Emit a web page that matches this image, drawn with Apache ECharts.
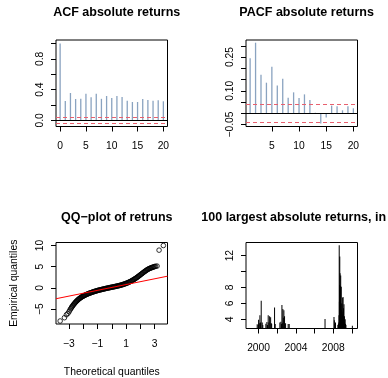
<!DOCTYPE html>
<html><head><meta charset="utf-8">
<script src="https://cdn.jsdelivr.net/npm/echarts@6/dist/echarts.min.js"></script>
<style>html,body{margin:0;padding:0;background:#fff}#c{width:388px;height:378px}</style>
</head><body><div id="c"></div>
<script>
// ---- data ----
const acfLags = [0,1,2,3,4,5,6,7,8,9,10,11,12,13,14,15,16,17,18,19,20];
const acfValues = [1.0,0.252,0.356,0.278,0.28,0.347,0.30,0.347,0.28,0.317,0.29,0.317,0.304,0.256,0.239,0.239,0.278,0.265,0.256,0.26,0.248];
const pacfLags = [1,2,3,4,5,6,7,8,9,10,11,12,13,14,15,16,17,18,19,20];
const pacfValues = [0.245,0.314,0.171,0.136,0.207,0.124,0.154,0.069,0.093,0.068,0.084,0.059,0.002,-0.046,-0.019,0.034,0.031,0.013,0.031,0.022];
const ciBound = 0.036;

const qqTheoretical = [-3.61,-3.31,-3.17,-3.07,-2.99,-2.93,-2.87,-2.82,-2.78,-2.74,-2.7,-2.66,-2.62,-2.58,-2.54,-2.5,-2.46,-2.42,-2.38,-2.34,-2.3,-2.26,-2.22,-2.18,-2.14,-2.1,-2.06,-2.02,-1.98,-1.94,-1.9,-1.85,-1.8,-1.75,-1.7,-1.65,-1.6,-1.55,-1.5,-1.45,-1.4,-1.35,-1.3,-1.25,-1.2,-1.15,-1.1,-1.05,-1.0,-0.95,-0.9,-0.85,-0.8,-0.75,-0.7,-0.65,-0.6,-0.55,-0.5,-0.45,-0.4,-0.35,-0.3,-0.25,-0.2,-0.15,-0.1,-0.05,0,0.05,0.1,0.15,0.2,0.25,0.3,0.35,0.4,0.45,0.5,0.55,0.6,0.65,0.7,0.75,0.8,0.85,0.9,0.95,1.0,1.05,1.1,1.15,1.2,1.25,1.3,1.35,1.4,1.45,1.5,1.55,1.6,1.65,1.7,1.75,1.8,1.85,1.9,1.95,2.0,2.05,2.1,2.15,2.2,2.25,2.3,2.35,2.4,2.45,2.5,2.55,2.6,2.65,2.7,2.75,2.8,2.85,2.9,2.95,3.0,3.07,3.17,3.31,3.61];
const qqEmpirical = [-7.77,-7.0,-6.3,-6.0,-5.6,-5.2,-4.9,-4.62,-4.42,-4.22,-4.04,-3.86,-3.7,-3.54,-3.38,-3.23,-3.09,-2.96,-2.84,-2.72,-2.6,-2.49,-2.39,-2.29,-2.2,-2.11,-2.03,-1.95,-1.88,-1.81,-1.74,-1.66,-1.58,-1.5,-1.43,-1.36,-1.29,-1.22,-1.16,-1.1,-1.04,-0.98,-0.92,-0.86,-0.81,-0.76,-0.71,-0.66,-0.61,-0.56,-0.52,-0.47,-0.43,-0.39,-0.35,-0.31,-0.27,-0.23,-0.19,-0.15,-0.11,-0.07,-0.04,0.0,0.04,0.07,0.11,0.14,0.18,0.21,0.25,0.28,0.32,0.35,0.39,0.43,0.47,0.51,0.55,0.59,0.63,0.68,0.73,0.78,0.83,0.89,0.95,1.01,1.07,1.14,1.21,1.28,1.36,1.44,1.52,1.61,1.7,1.8,1.9,2.0,2.11,2.22,2.33,2.45,2.57,2.7,2.83,2.96,3.09,3.22,3.35,3.48,3.61,3.74,3.87,3.99,4.11,4.22,4.33,4.43,4.52,4.6,4.67,4.74,4.8,4.86,4.92,4.98,5.04,5.1,5.15,8.9,9.99];
const qqLineIntercept = 0.12;
const qqLineSlope = 0.68;

const largestDates = [1999.85,1999.95,2000.0,2000.07,2000.14,2000.2,2000.28,2000.39,2000.45,2000.78,2000.89,2000.95,2001.03,2001.1,2001.18,2001.29,2001.35,2001.4,2001.71,2001.78,2002.28,2002.39,2002.45,2002.5,2002.55,2002.6,2002.65,2002.71,2002.78,2002.89,2003.17,2003.28,2007.12,2008.08,2008.12,2008.18,2008.24,2008.5,2008.55,2008.6,2008.62,2008.64,2008.66,2008.68,2008.7,2008.72,2008.73,2008.75,2008.76,2008.78,2008.8,2008.81,2008.83,2008.84,2008.86,2008.87,2008.89,2008.9,2008.92,2008.93,2008.95,2008.97,2008.99,2009.01,2009.03,2009.05,2009.07,2009.1,2009.12,2009.15,2009.18,2009.2,2009.23,2009.28,2009.32,2009.36,2010.05];
const largestValues = [3.37,3.3,3.96,3.5,4.5,3.6,6.35,3.6,3.3,3.45,3.66,3.3,4.5,3.6,4.38,4.25,3.5,3.45,5.5,3.4,3.6,3.7,3.4,5.8,3.5,5.3,4.2,5.15,4.4,3.5,3.4,3.4,4.05,4.3,3.9,3.4,3.6,3.3,3.4,3.6,4.5,13.3,6.2,8.3,11.9,7.0,9.8,5.4,7.6,8.2,9.5,4.6,6.0,5.0,8.1,4.2,5.2,3.8,6.0,4.4,5.0,3.9,4.6,6.7,4.5,6.8,3.6,5.4,4.0,5.9,3.7,4.4,3.5,4.0,3.4,3.3,3.2];

const acfXTicks = [0,5,10,15,20];
const acfYTicks = [0,0.2,0.4,0.6,0.8,1.0];
const acfYLabels = [0,0.4,0.8];
const pacfXTicks = [5,10,15,20];
const pacfYTicks = [-0.05,0,0.05,0.1,0.15,0.2,0.25,0.3];
const pacfYLabels = [-0.05,0.1,0.25];
const qqXTicks = [-3,-2,-1,0,1,2,3];
const qqXLabels = [-3,-1,1,3];
const qqYTicks = [-5,0,5,10];
const yearTicks = [2000,2002,2004,2006,2008,2010];
const yearLabels = [2000,2004,2008];
const largestYTicks = [4,6,8,10,12];
const largestYLabels = [4,6,8,12];

// ---- chart ----
const FONT = 'Liberation Sans, Arial, Helvetica, sans-serif';
const minus = s => String(s).replace('-', '\u2212');
const fmt = d => v => minus(v.toFixed(d));

function xAx(gi, min, max, ticks, labels, f, extra) {
  return Object.assign({
    type: 'value', gridIndex: gi, min: min, max: max,
    axisLine: {show: false, onZero: false},
    splitLine: {show: false},
    axisTick: {show: true, inside: false, length: 5, customValues: ticks, lineStyle: {color: '#000', width: 1}},
    axisLabel: {show: true, customValues: labels, margin: 15, color: '#000', fontSize: 10.3, fontFamily: FONT, formatter: f}
  }, extra || {});
}
function yAx(gi, min, max, ticks, labels, f, extra) {
  return Object.assign({
    type: 'value', gridIndex: gi, min: min, max: max,
    axisLine: {show: false, onZero: false},
    splitLine: {show: false},
    axisTick: {show: true, inside: false, length: 5, customValues: ticks, lineStyle: {color: '#000', width: 1}},
    axisLabel: {show: true, customValues: labels, rotate: 90, margin: 11, color: '#000', fontSize: 10.3, fontFamily: FONT, formatter: f}
  }, extra || {});
}

const gridBase = {show: true, borderColor: '#000', borderWidth: 1, backgroundColor: 'transparent', containLabel: false};
const titleStyle = {fontSize: 12.5, fontWeight: 'bold', fontFamily: FONT, color: '#000'};
const ciLine = {color: '#e8606e', type: [4, 3], width: 1.2};

const chart = echarts.init(document.getElementById('c'), null, {renderer: 'canvas'});
chart.setOption({
  animation: false,
  backgroundColor: '#fff',
  title: [
    {text: 'ACF absolute returns', left: 111.7, top: 1, textAlign: 'center', textStyle: titleStyle},
    {text: 'PACF absolute returns', left: 301.6, top: 1, textAlign: 'center', textStyle: titleStyle},
    {text: 'QQ\u2212plot of retruns', left: 111.8, top: 206.5, textAlign: 'center', textStyle: titleStyle},
    {text: '100 largest absolute returns, in %', left: 196.3, top: 206.5, textAlign: 'left', textStyle: titleStyle}
  ],
  grid: [
    Object.assign({left: 56, top: 40, width: 111.5, height: 86.5}, gridBase),
    Object.assign({left: 246, top: 40, width: 111.5, height: 86.5}, gridBase),
    Object.assign({left: 56, top: 242.5, width: 111.5, height: 86}, gridBase),
    Object.assign({left: 246, top: 242.5, width: 111.5, height: 86}, gridBase)
  ],
  xAxis: [
    xAx(0, -0.8, 20.8, acfXTicks, acfXTicks, v => String(v)),
    xAx(1, 0.24, 20.76, pacfXTicks, pacfXTicks, v => String(v)),
    xAx(2, -3.9, 3.9, qqXTicks, qqXLabels, v => minus(v), {
      name: 'Theoretical quantiles', nameLocation: 'middle', nameGap: 43,
      nameTextStyle: {fontSize: 10.4, fontFamily: FONT, color: '#000'}}),
    xAx(3, 1998.65, 2010.6, yearTicks, yearLabels, v => String(v))
  ],
  yAxis: [
    yAx(0, -0.08, 1.045, acfYTicks, acfYLabels, fmt(1)),
    yAx(1, -0.059, 0.326, pacfYTicks, pacfYLabels, fmt(2)),
    yAx(2, -8.48, 10.7, qqYTicks, qqYTicks, v => minus(v), {
      name: 'Empirical quantiles', nameLocation: 'middle', nameGap: 37, nameRotate: 90,
      nameTextStyle: {fontSize: 10.4, fontFamily: FONT, color: '#000'}}),
    yAx(3, 2.85, 13.65, largestYTicks, largestYLabels, v => String(v))
  ],
  series: [
    {type: 'bar', xAxisIndex: 0, yAxisIndex: 0, barWidth: 1.3,
     itemStyle: {color: '#8aa3c0'},
     data: acfLags.map((l, i) => [l, acfValues[i]]),
     markLine: {silent: true, symbol: ['none', 'none'], label: {show: false}, animation: false,
       data: [
         {yAxis: 0, lineStyle: {color: '#000', type: 'solid', width: 1}},
         {yAxis: ciBound, lineStyle: ciLine},
         {yAxis: -ciBound, lineStyle: ciLine}
       ]}},
    {type: 'bar', xAxisIndex: 1, yAxisIndex: 1, barWidth: 1.3,
     itemStyle: {color: '#8aa3c0'},
     data: pacfLags.map((l, i) => [l, pacfValues[i]]),
     markLine: {silent: true, symbol: ['none', 'none'], label: {show: false}, animation: false,
       data: [
         {yAxis: 0, lineStyle: {color: '#000', type: 'solid', width: 1}},
         {yAxis: ciBound, lineStyle: ciLine},
         {yAxis: -ciBound, lineStyle: ciLine}
       ]}},
    {type: 'scatter', xAxisIndex: 2, yAxisIndex: 2, symbol: 'circle', symbolSize: 4.6,
     itemStyle: {color: 'rgba(0,0,0,0)', borderColor: '#000', borderWidth: 1},
     data: qqTheoretical.map((t, i) => [t, qqEmpirical[i]])},
    {type: 'line', xAxisIndex: 2, yAxisIndex: 2, showSymbol: false, clip: true,
     lineStyle: {color: '#ff0000', width: 1},
     data: [-3.9, 3.9].map(x => [x, qqLineIntercept + qqLineSlope * x])},
    {type: 'bar', xAxisIndex: 3, yAxisIndex: 3, barWidth: 1, clip: true,
     itemStyle: {color: '#000'},
     data: largestDates.map((d, i) => [d, largestValues[i]])}
  ]
});
</script></body></html>
